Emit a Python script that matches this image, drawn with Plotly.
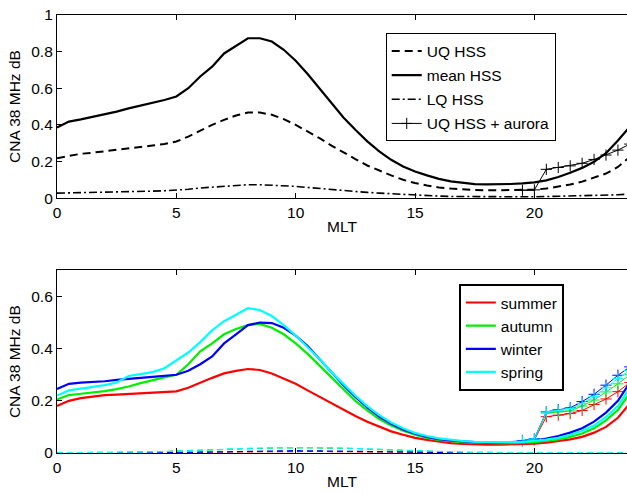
import plotly.graph_objects as go

# ---------------- data ----------------
mlt = [0, 0.5, 1, 1.5, 2, 2.5, 3, 3.5, 4, 4.5, 5, 5.5, 6, 6.5, 7, 7.5, 8, 8.5, 9, 9.5,
       10, 10.5, 11, 11.5, 12, 12.5, 13, 13.5, 14, 14.5, 15, 15.5, 16, 16.5, 17, 17.5,
       18, 18.5, 19, 19.5, 20, 20.5, 21, 21.5, 22, 22.5, 23, 23.5, 24]

uq_hss = [0.218, 0.231, 0.242, 0.248, 0.255, 0.262, 0.269, 0.278, 0.287, 0.296, 0.309,
          0.336, 0.369, 0.400, 0.427, 0.451, 0.467, 0.467, 0.455, 0.431, 0.400, 0.364,
          0.327, 0.287, 0.249, 0.213, 0.178, 0.149, 0.124, 0.100, 0.082, 0.069, 0.058,
          0.052, 0.047, 0.044, 0.042, 0.042, 0.042, 0.043, 0.046, 0.052, 0.061, 0.074,
          0.090, 0.110, 0.134, 0.170, 0.225]
mean_hss = [0.385, 0.418, 0.430, 0.443, 0.455, 0.472, 0.490, 0.505, 0.520, 0.536, 0.555,
            0.600, 0.664, 0.718, 0.790, 0.830, 0.873, 0.873, 0.855, 0.810, 0.750, 0.678,
            0.600, 0.518, 0.440, 0.373, 0.310, 0.255, 0.209, 0.173, 0.145, 0.124, 0.105,
            0.091, 0.082, 0.076, 0.075, 0.075, 0.077, 0.080, 0.086, 0.097, 0.115, 0.138,
            0.165, 0.198, 0.245, 0.315, 0.390]
lq_hss = [0.027, 0.028, 0.029, 0.031, 0.032, 0.034, 0.035, 0.037, 0.038, 0.040, 0.042,
          0.048, 0.055, 0.060, 0.065, 0.069, 0.073, 0.073, 0.071, 0.068, 0.064, 0.058,
          0.052, 0.046, 0.040, 0.035, 0.031, 0.027, 0.023, 0.019, 0.016, 0.013, 0.011,
          0.009, 0.008, 0.007, 0.007, 0.007, 0.007, 0.007, 0.007, 0.008, 0.009, 0.010,
          0.011, 0.013, 0.015, 0.018, 0.022]

aurora_mlt = [19.5, 20, 20.5, 21, 21.5, 22, 22.5, 23, 23.5, 24]
uq_hss_aurora = [0.043, 0.045, 0.157, 0.167, 0.176, 0.190, 0.211, 0.235, 0.262, 0.295]

seasons = ["summer", "autumn", "winter", "spring"]
season_colors = ["#ff0000", "#00ee00", "#0000ff", "#00ffff"]

uq_summer = [0.180, 0.200, 0.210, 0.217, 0.222, 0.224, 0.226, 0.228, 0.230, 0.232, 0.236,
             0.250, 0.270, 0.288, 0.305, 0.315, 0.322, 0.318, 0.305, 0.285, 0.265, 0.240,
             0.215, 0.190, 0.165, 0.142, 0.120, 0.100, 0.083, 0.070, 0.058, 0.050, 0.043,
             0.038, 0.035, 0.033, 0.032, 0.032, 0.033, 0.034, 0.036, 0.040, 0.045, 0.052,
             0.062, 0.078, 0.100, 0.135, 0.190]
uq_autumn = [0.205, 0.222, 0.227, 0.232, 0.237, 0.245, 0.255, 0.268, 0.280, 0.290, 0.300,
             0.340, 0.390, 0.420, 0.455, 0.475, 0.490, 0.495, 0.480, 0.455, 0.420, 0.380,
             0.335, 0.290, 0.245, 0.200, 0.163, 0.130, 0.105, 0.085, 0.070, 0.058, 0.050,
             0.045, 0.042, 0.040, 0.038, 0.038, 0.038, 0.039, 0.042, 0.046, 0.052, 0.062,
             0.075, 0.095, 0.125, 0.165, 0.230]
uq_winter = [0.245, 0.265, 0.270, 0.272, 0.275, 0.280, 0.285, 0.288, 0.292, 0.296, 0.300,
             0.315, 0.340, 0.370, 0.420, 0.455, 0.490, 0.500, 0.498, 0.480, 0.450, 0.410,
             0.360, 0.310, 0.260, 0.215, 0.175, 0.140, 0.112, 0.090, 0.074, 0.062, 0.053,
             0.048, 0.044, 0.042, 0.041, 0.041, 0.042, 0.044, 0.048, 0.055, 0.065, 0.078,
             0.095, 0.120, 0.155, 0.200, 0.270]
uq_spring = [0.220, 0.240, 0.247, 0.253, 0.260, 0.270, 0.295, 0.302, 0.310, 0.325, 0.355,
             0.385, 0.425, 0.470, 0.505, 0.530, 0.555, 0.548, 0.525, 0.490, 0.450, 0.405,
             0.360, 0.310, 0.265, 0.220, 0.180, 0.145, 0.117, 0.095, 0.077, 0.065, 0.056,
             0.050, 0.046, 0.043, 0.042, 0.042, 0.042, 0.043, 0.046, 0.051, 0.058, 0.070,
             0.085, 0.105, 0.138, 0.180, 0.250]
uq_seasons = [uq_summer, uq_autumn, uq_winter, uq_spring]

aurora_summer = [0.045, 0.050, 0.139, 0.145, 0.151, 0.163, 0.186, 0.207, 0.235, 0.270]
aurora_autumn = [0.045, 0.052, 0.153, 0.158, 0.161, 0.180, 0.203, 0.234, 0.265, 0.300]
aurora_winter = [0.048, 0.055, 0.158, 0.166, 0.173, 0.197, 0.225, 0.260, 0.298, 0.330]
aurora_spring = [0.046, 0.054, 0.157, 0.164, 0.170, 0.190, 0.216, 0.250, 0.285, 0.316]
aurora_seasons = [aurora_summer, aurora_autumn, aurora_winter, aurora_spring]

lq_mlt = [0, 2, 4, 5, 6, 7, 8, 9, 10, 11, 12, 13, 14, 15, 16, 17, 18, 20, 22, 24]
lq_summer = [0.001, 0.001, 0.001, 0.002, 0.003, 0.004, 0.005, 0.006, 0.006, 0.006,
             0.005, 0.004, 0.003, 0.002, 0.001, 0.001, 0.001, 0.001, 0.001, 0.001]
lq_autumn = [0.001, 0.002, 0.004, 0.008, 0.011, 0.014, 0.017, 0.019, 0.020, 0.020,
             0.018, 0.015, 0.011, 0.008, 0.005, 0.003, 0.002, 0.001, 0.001, 0.001]
lq_winter = [0.000, 0.000, 0.001, 0.002, 0.003, 0.005, 0.007, 0.008, 0.009, 0.008,
             0.007, 0.005, 0.003, 0.002, 0.001, 0.000, 0.000, 0.000, 0.000, 0.000]
lq_spring = [0.001, 0.002, 0.004, 0.007, 0.011, 0.015, 0.018, 0.020, 0.021, 0.021,
             0.019, 0.016, 0.012, 0.008, 0.005, 0.003, 0.002, 0.001, 0.001, 0.001]
lq_seasons = [lq_summer, lq_autumn, lq_winter, lq_spring]

x_ticks = [0, 5, 10, 15, 20]
y_ticks_top = [0, 0.2, 0.4, 0.6, 0.8, 1]
y_ticks_bottom = [0, 0.2, 0.4, 0.6]

# ---------------- figure ----------------
FONT = "Liberation Sans, Arial, Helvetica, sans-serif"
TICK_SIZE = 15.5
fig = go.Figure()

fig.add_trace(go.Scatter(x=mlt, y=uq_hss, mode="lines", name="UQ HSS",
                         line=dict(color="black", width=2, dash="8px,5px"),
                         xaxis="x", yaxis="y", legend="legend", legendgroup="a"))
fig.add_trace(go.Scatter(x=mlt, y=mean_hss, mode="lines", name="mean HSS",
                         line=dict(color="black", width=2.2),
                         xaxis="x", yaxis="y", legend="legend", legendgroup="b"))
fig.add_trace(go.Scatter(x=mlt, y=lq_hss, mode="lines", name="LQ HSS",
                         line=dict(color="black", width=1.6, dash="8px,3px,2px,3px"),
                         xaxis="x", yaxis="y", legend="legend", legendgroup="c"))
fig.add_trace(go.Scatter(x=aurora_mlt, y=uq_hss_aurora, mode="lines+markers",
                         name="UQ HSS + aurora",
                         line=dict(color="black", width=1),
                         marker=dict(symbol="cross-thin", size=8,
                                     line=dict(color="black", width=1)),
                         xaxis="x", yaxis="y", legend="legend", legendgroup="d"))

for name, col, lq in zip(seasons, season_colors, lq_seasons):
    fig.add_trace(go.Scatter(x=lq_mlt, y=lq, mode="lines", showlegend=False,
                             line=dict(color=col, width=1.2, dash="6px,4px"),
                             xaxis="x2", yaxis="y2"))
for name, col, au in zip(seasons, season_colors, aurora_seasons):
    fig.add_trace(go.Scatter(x=aurora_mlt, y=au, mode="lines+markers", showlegend=False,
                             line=dict(color=col, width=1),
                             marker=dict(symbol="cross-thin", size=8,
                                         line=dict(color=col, width=1)),
                             xaxis="x2", yaxis="y2"))
for i, (name, col, uq) in enumerate(zip(seasons, season_colors, uq_seasons)):
    fig.add_trace(go.Scatter(x=mlt, y=uq, mode="lines", name=name,
                             line=dict(color=col, width=2.2),
                             xaxis="x2", yaxis="y2", legend="legend2",
                             legendgroup="s%d" % i))

XR = [0, 23.88]
ax_common = dict(showline=True, linecolor="black", linewidth=1.2, ticks="inside",
                 ticklen=5, tickcolor="black", showgrid=False, zeroline=False,
                 tickfont=dict(family=FONT, size=TICK_SIZE, color="black"))

fig.update_layout(
    width=627, height=494,
    margin=dict(l=57, r=0, t=15, b=41),
    paper_bgcolor="white", plot_bgcolor="white",
    font=dict(family=FONT, size=15, color="black"),
    xaxis=dict(domain=[0, 1], anchor="y", range=XR, tickvals=x_ticks, mirror="ticks",
               title=dict(text="MLT", standoff=1, font=dict(size=TICK_SIZE)),
               **ax_common),
    yaxis=dict(domain=[0.582, 1], anchor="x", range=[0, 1], tickvals=y_ticks_top,
               title=dict(text="CNA 38 MHz dB", standoff=6, font=dict(size=TICK_SIZE)),
               **ax_common),
    yaxis3=dict(overlaying="y", side="right", anchor="x", range=[0, 1],
                tickvals=y_ticks_top, ticks="inside", ticklen=5, tickcolor="black",
                showticklabels=False, showline=False, showgrid=False, zeroline=False),
    xaxis2=dict(domain=[0, 1], anchor="y2", range=XR, tickvals=x_ticks, mirror="ticks",
                title=dict(text="MLT", standoff=1, font=dict(size=TICK_SIZE)),
                **ax_common),
    yaxis2=dict(domain=[0, 0.417], anchor="x2", range=[0, 0.7], tickvals=y_ticks_bottom,
                title=dict(text="CNA 38 MHz dB", standoff=6, font=dict(size=TICK_SIZE)),
                **ax_common),
    yaxis4=dict(overlaying="y2", side="right", anchor="x2", range=[0, 0.7],
                tickvals=y_ticks_bottom, ticks="inside", ticklen=5, tickcolor="black",
                showticklabels=False, showline=False, showgrid=False, zeroline=False),
    legend=dict(x=0.5767, y=0.958, xanchor="left", yanchor="top",
                bgcolor="white", bordercolor="black", borderwidth=1,
                font=dict(family=FONT, size=15.5, color="black"),
                traceorder="grouped", tracegroupgap=1, itemwidth=30),
    legend2=dict(x=0.705, y=0.386, xanchor="left", yanchor="top",
                 bgcolor="white", bordercolor="black", borderwidth=2,
                 font=dict(family=FONT, size=15.5, color="black"),
                 traceorder="grouped", tracegroupgap=0, itemwidth=30),
)

fig.write_html("out.html", config={"displayModeBar": False},
               post_script="document.body.style.margin='0';"
                           "document.body.style.overflow='hidden';")
